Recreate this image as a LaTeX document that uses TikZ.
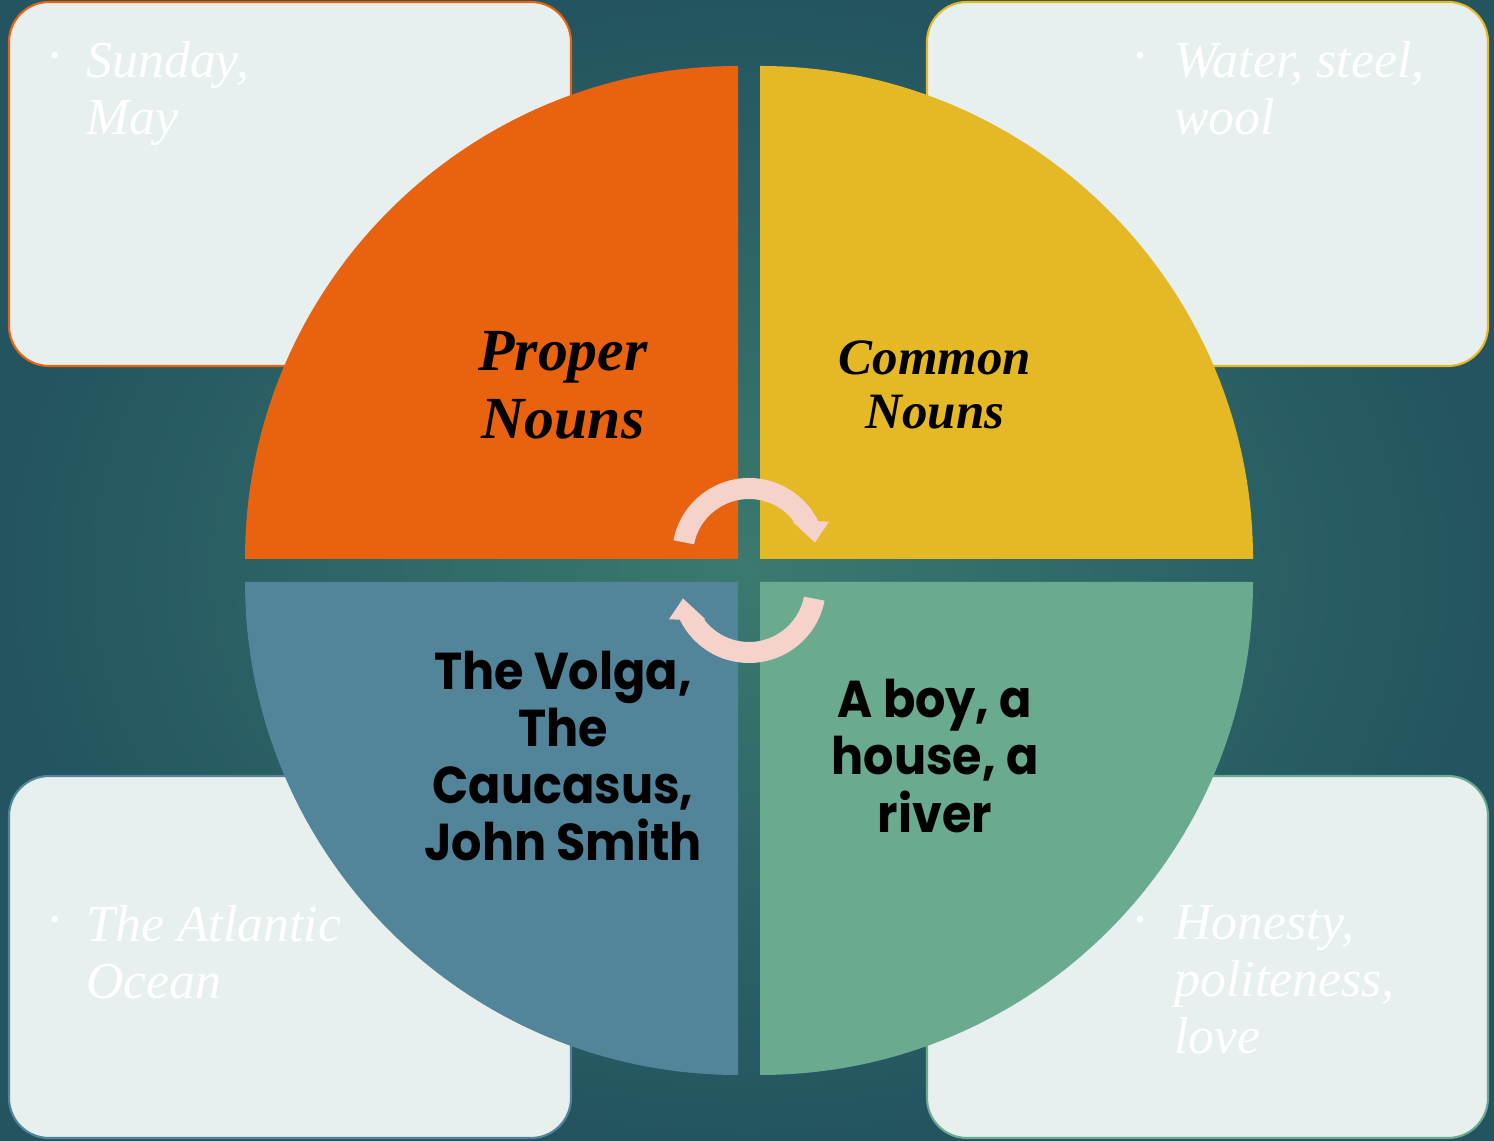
\documentclass[tikz,border=0pt]{standalone}
\usepackage{fontspec}
\usepackage{xcolor}
\usepackage{tikz}
\usetikzlibrary{positioning}
\newfontfamily\titlefont{Liberation Serif}
\newfontfamily\notefont{Liberation Serif}
\newfontfamily\geofont[FakeStretch=0.92]{Poppins}
\definecolor{bginner}{HTML}{3B7A6E}
\definecolor{bgouter}{HTML}{235460}
\definecolor{propercol}{HTML}{E8620F}
\definecolor{commoncol}{HTML}{E5B826}
\definecolor{volgacol}{HTML}{52849A}
\definecolor{rivercol}{HTML}{6AAA8E}
\definecolor{notefill}{HTML}{E8EFEF}
\definecolor{arrowpink}{HTML}{F5D3CB}
\tikzset{
  noteframe/.style  = {rounded corners=0.8cm, line width=1.2pt, fill=notefill},
  notetext/.style   = {anchor=north west, inner sep=0pt, align=left, text=white,
                       font=\notefont\itshape\fontsize{29.5}{32.5}\selectfont},
  notedot/.style    = {inner sep=0pt, text=white, font=\fontsize{17}{17}\selectfont},
  quadtitle/.style  = {align=center, inner sep=0pt, text=black},
  quadbody/.style   = {align=center, inner sep=0pt, text=black,
                       font=\geofont\bfseries\fontsize{29.5}{32.6}\selectfont},
  cyclearrow/.style = {fill=arrowpink, draw=none},
}

\begin{document}
\begin{tikzpicture}[x=0.02cm, y=0.02cm]

% background
\useasboundingbox (0,0) rectangle (1494,1141);
\shade[inner color=bginner, outer color=bgouter] (0,0) rectangle (1494,1141);

% corner note frames
\draw[noteframe, draw=propercol] (9,775) rectangle (571,1139);
\draw[noteframe, draw=commoncol] (927,775) rectangle (1488,1139);
\draw[noteframe, draw=volgacol]  (9,3) rectangle (571,365);
\draw[noteframe, draw=rivercol]  (927,3) rectangle (1488,365);

% note texts
\node[notedot] (sundot) at (55,1083) {\textbullet};
\node[notetext] (sun) at (86,1100) {Sunday,\\May};
\node[notedot] (waterdot) at (1140,1083) {\textbullet};
\node[notetext] (water) at (1174,1100) {Water, steel,\\wool};
\node[notedot] (oceandot) at (55,219) {\textbullet};
\node[notetext] (ocean) at (86,236) {The Atlantic\\Ocean};
\node[notedot] (honestdot) at (1140,219) {\textbullet};
\node[notetext] (honest) at (1174,236) {Honesty,\\politeness,\\love};

% four quadrants
\fill[propercol] (738,582) -- ++(180:493) arc[start angle=180, end angle=90, radius=493] -- cycle;
\fill[commoncol] (760,582) -- ++(90:493) arc[start angle=90, end angle=0, radius=493] -- cycle;
\fill[volgacol]  (738,559) -- ++(270:493) arc[start angle=270, end angle=180, radius=493] -- cycle;
\fill[rivercol]  (760,559) -- ++(0:493) arc[start angle=360, end angle=270, radius=493] -- cycle;

% quadrant texts
\node[quadtitle, font=\titlefont\bfseries\itshape\fontsize{34}{38.5}\selectfont]
  (proper) at (563,756) {Proper\\Nouns};
\node[quadtitle, font=\titlefont\bfseries\itshape\fontsize{29}{30.6}\selectfont]
  (common) at (935,756) {Common\\Nouns};
\node[quadbody] (volga) at (563,385) {The Volga,\\The\\Caucasus,\\John Smith};
\node[quadbody] (boy) at (935,385) {A boy, a\\house, a\\river};

% cycle arrows in the middle
\begin{scope}[shift={(749,586)}]
  \fill[cyclearrow] (169:77) arc[start angle=169, end angle=26, radius=77]
    -- (80,33.3) -- (66,12.5) -- (43.5,33.3) -- (36:56)
    arc[start angle=36, end angle=169, radius=56] -- cycle;
\end{scope}
\begin{scope}[shift={(749,555)}]
  \fill[cyclearrow] (349:77) arc[start angle=349, end angle=206, radius=77]
    -- (-80,-33.3) -- (-66,-12.5) -- (-43.5,-33.3) -- (216:56)
    arc[start angle=216, end angle=349, radius=56] -- cycle;
\end{scope}

\end{tikzpicture}
\end{document}
